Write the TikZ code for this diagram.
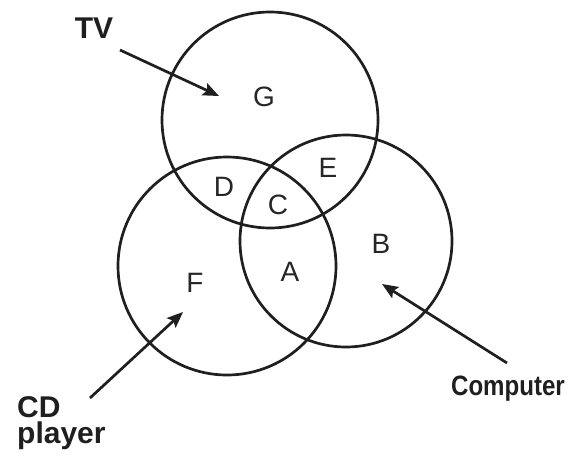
\documentclass[tikz,border=0pt]{standalone}
\usepackage{fontspec}
\setmainfont{Liberation Sans}
\usetikzlibrary{arrows.meta}
\begin{document}
\begin{tikzpicture}[x=1pt,y=-1pt,
  ring/.style={draw=black!88,line width=2.7pt,circle,inner sep=0pt},
  region/.style={font=\fontsize{28}{28}\selectfont,text=black!85,inner sep=0pt},
  setname/.style={font=\bfseries\fontsize{30}{30}\selectfont,text=black!88,inner sep=0pt},
  pointer/.style={draw=black!88,line width=2.7pt,-{Stealth[length=16pt,width=13pt,inset=3pt]}}]
\useasboundingbox (0,0) rectangle (573,456);
\node[ring,minimum size=216pt] (tv) at (270,120) {};
\node[ring,minimum size=218pt] (cd) at (227,266) {};
\node[ring,minimum size=212pt] (pc) at (346,241) {};
\node[region] (G) at (264,97) {G};
\node[region] (D) at (224,187) {D};
\node[region] (C) at (278,205) {C};
\node[region] (E) at (328,168) {E};
\node[region] (A) at (290,272) {A};
\node[region] (B) at (381,244) {B};
\node[region] (F) at (195,283) {F};
\node[setname] (tvl) at (94,28) {TV};
\node[setname,anchor=base west] (cdl) at (17,417) {CD};
\node[setname,anchor=base west] (cdl2) at (17,443) {player};
\node[setname,xscale=0.86,font=\bfseries\fontsize{28}{28}\selectfont] (pcl) at (508,389) {Computer};
\coordinate (tvs) at (120,50);
\coordinate (tvt) at (219,96);
\coordinate (cds) at (90,398);
\coordinate (cdt) at (183,312);
\coordinate (pcs) at (507,363);
\coordinate (pct) at (382,284);
\draw[pointer] (tvs) -- (tvt);
\draw[pointer] (cds) -- (cdt);
\draw[pointer] (pcs) -- (pct);
\end{tikzpicture}
\end{document}
